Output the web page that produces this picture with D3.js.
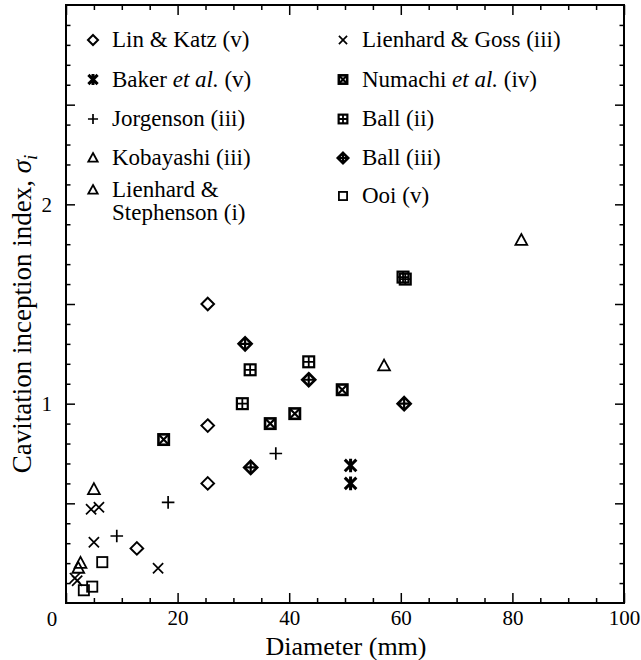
<!DOCTYPE html>
<html>
<head>
<meta charset="utf-8">
<script src="https://cdn.jsdelivr.net/npm/d3@7"></script>
<style>
  html, body { margin: 0; padding: 0; background: #fff; }
  svg { display: block; }
  text { font-family: "Liberation Serif", "Times New Roman", serif; fill: #000; }
</style>
</head>
<body>
<svg id="chart" width="641" height="660"></svg>
<script>
// ---------- data (diameter mm, sigma_i) ----------
const linKatz      = [[25.4, 1.50], [25.4, 0.89], [25.4, 0.60], [12.7, 0.274]];
const lienhardGoss = [[4.5, 0.47], [5.9, 0.48], [5.0, 0.305], [16.5, 0.174], [1.6, 0.125], [2.0, 0.112]];
const baker        = [[51.0, 0.69], [51.0, 0.60]];
const numachi      = [[17.5, 0.82], [36.6, 0.90], [41.0, 0.95], [49.5, 1.07]];
const jorgenson    = [[9.1, 0.336], [18.3, 0.505], [37.6, 0.75]];
const ball2        = [[31.6, 1.00], [33.0, 1.17], [43.5, 1.21], [60.4, 1.635], [60.8, 1.625]];
const kobayashi    = [[57.0, 1.19], [81.6, 1.82]];
const ball3        = [[32.1, 1.30], [43.5, 1.12], [60.6, 1.00], [33.1, 0.68]];
const lienhardSteph= [[5.0, 0.57], [2.6, 0.20], [2.2, 0.175]];
const ooi          = [[6.5, 0.205], [4.7, 0.082], [3.2, 0.064]];

const xMajorTicks = [0, 20, 40, 60, 80, 100];
const yLabelTicks = [1, 2];
const xTitle = "Diameter (mm)";
const yTitle = "Cavitation inception index, ";

const seriesList = [
  {parts: [["Lin & Katz (v)", false]], shape: "diamond", data: linKatz, col: 0, row: 0},
  {parts: [["Baker ", false], ["et al.", true], [" (v)", false]], shape: "asterisk", data: baker, col: 0, row: 1},
  {parts: [["Jorgenson (iii)", false]], shape: "plus", data: jorgenson, col: 0, row: 2},
  {parts: [["Kobayashi (iii)", false]], shape: "triangle", data: kobayashi, col: 0, row: 3},
  {parts: [["Lienhard &", false]], parts2: "Stephenson (i)", shape: "triangle", data: lienhardSteph, col: 0, row: 4},
  {parts: [["Lienhard & Goss (iii)", false]], shape: "cross", data: lienhardGoss, col: 1, row: 0},
  {parts: [["Numachi ", false], ["et al.", true], [" (iv)", false]], shape: "boxX", data: numachi, col: 1, row: 1},
  {parts: [["Ball (ii)", false]], shape: "boxPlus", data: ball2, col: 1, row: 2},
  {parts: [["Ball (iii)", false]], shape: "diamondPlus", data: ball3, col: 1, row: 3},
  {parts: [["Ooi (v)", false]], shape: "square", data: ooi, col: 1, row: 4}
];

// ---------- layout ----------
const svg = d3.select("#chart");
const mLeft = 66, mRight = 624, mTop = 5, mBottom = 603;
const x = d3.scaleLinear().domain([0, 100]).range([mLeft, mRight]);
const y = d3.scaleLinear().domain([0, 3]).range([mBottom, mTop]);

const xMinor = d3.range(0, 100.001, 5).filter(v => v % 20 !== 0);
const yMinor = d3.range(0, 3.0001, 0.1).map(v => +v.toFixed(1)).filter(v => Math.round(v * 10) % 5 !== 0);
const yMajor = [0.5, 1, 1.5, 2, 2.5];

function styleAxis(g) {
  g.select(".domain").remove();
  g.selectAll(".tick line").attr("stroke", "#000").attr("stroke-width", 1.5);
}

// bottom
svg.append("g").attr("transform", `translate(0,${mBottom})`)
  .call(d3.axisBottom(x).tickValues(xMajorTicks).tickSize(-10).tickPadding(7)
    .tickFormat(d => d === 0 ? "" : d))
  .call(styleAxis)
  .call(g => g.selectAll("text").attr("font-size", 21));
svg.append("g").attr("transform", `translate(0,${mBottom})`)
  .call(d3.axisBottom(x).tickValues(xMinor).tickSize(-5).tickFormat(""))
  .call(styleAxis);
// top
svg.append("g").attr("transform", `translate(0,${mTop})`)
  .call(d3.axisTop(x).tickValues(xMajorTicks).tickSize(-10).tickFormat(""))
  .call(styleAxis);
svg.append("g").attr("transform", `translate(0,${mTop})`)
  .call(d3.axisTop(x).tickValues(xMinor).tickSize(-5).tickFormat(""))
  .call(styleAxis);
// left
svg.append("g").attr("transform", `translate(${mLeft},0)`)
  .call(d3.axisLeft(y).tickValues(yMajor).tickSize(-9).tickPadding(14)
    .tickFormat(d => yLabelTicks.includes(d) ? d : ""))
  .call(styleAxis)
  .call(g => g.selectAll("text").attr("font-size", 21));
svg.append("g").attr("transform", `translate(${mLeft},0)`)
  .call(d3.axisLeft(y).tickValues(yMinor).tickSize(-4.5).tickFormat(""))
  .call(styleAxis);
// right
svg.append("g").attr("transform", `translate(${mRight},0)`)
  .call(d3.axisRight(y).tickValues(yMajor).tickSize(-9).tickFormat(""))
  .call(styleAxis);
svg.append("g").attr("transform", `translate(${mRight},0)`)
  .call(d3.axisRight(y).tickValues(yMinor).tickSize(-4.5).tickFormat(""))
  .call(styleAxis);

// origin label "0"
svg.append("text").attr("x", x(0) - 14).attr("y", mBottom + 23)
  .attr("text-anchor", "middle").attr("font-size", 21).text(0);

// frame
svg.append("rect").attr("x", mLeft).attr("y", mTop)
  .attr("width", mRight - mLeft).attr("height", mBottom - mTop)
  .attr("fill", "none").attr("stroke", "#000").attr("stroke-width", 2);

// titles
svg.append("text").attr("x", (mLeft + mRight) / 2 + 1).attr("y", 655)
  .attr("text-anchor", "middle").attr("font-size", 26).text(xTitle);
const yt = svg.append("text")
  .attr("transform", `translate(31,314) rotate(-90)`)
  .attr("text-anchor", "middle").attr("font-size", 27);
yt.append("tspan").text(yTitle);
yt.append("tspan").attr("font-style", "italic").text("σ");
yt.append("tspan").attr("font-style", "italic").attr("font-size", 19).attr("dy", 6).text("i");

// ---------- marker drawing ----------
function drawMarker(g, shape, s) {
  const k = "#000";
  if (shape === "diamond") {
    g.append("path").attr("d", `M0,${-s}L${s},0L0,${s}L${-s},0Z`)
      .attr("fill", "none").attr("stroke", k).attr("stroke-width", 2);
  } else if (shape === "cross") {
    const a = s * 0.85;
    g.append("path").attr("d", `M${-a},${-a}L${a},${a}M${-a},${a}L${a},${-a}`)
      .attr("stroke", k).attr("stroke-width", 1.7).attr("fill", "none");
  } else if (shape === "asterisk") {
    const a = s * 0.85;
    g.append("path").attr("d", `M${-a},${-a}L${a},${a}M${-a},${a}L${a},${-a}M0,${-s}L0,${s}`)
      .attr("stroke", k).attr("stroke-width", 3).attr("fill", "none");
  } else if (shape === "plus") {
    g.append("path").attr("d", `M${-s},0L${s},0M0,${-s}L0,${s}`)
      .attr("stroke", k).attr("stroke-width", 1.7).attr("fill", "none");
  } else if (shape === "triangle") {
    const h = s;
    g.append("path").attr("d", `M0,${-h}L${s * 0.95},${h * 0.75}L${-s * 0.95},${h * 0.75}Z`)
      .attr("fill", "none").attr("stroke", k).attr("stroke-width", 1.8);
  } else if (shape === "square") {
    const a = s * 0.85;
    g.append("rect").attr("x", -a).attr("y", -a).attr("width", 2 * a).attr("height", 2 * a)
      .attr("fill", "none").attr("stroke", k).attr("stroke-width", 1.8);
  } else if (shape === "boxX") {
    const a = s * 0.8;
    g.append("rect").attr("x", -a).attr("y", -a).attr("width", 2 * a).attr("height", 2 * a)
      .attr("fill", "none").attr("stroke", k).attr("stroke-width", 2.6);
    g.append("path").attr("d", `M${-a},${-a}L${a},${a}M${-a},${a}L${a},${-a}`)
      .attr("stroke", k).attr("stroke-width", 2.2);
  } else if (shape === "boxPlus") {
    const a = s * 0.8;
    g.append("rect").attr("x", -a).attr("y", -a).attr("width", 2 * a).attr("height", 2 * a)
      .attr("fill", "none").attr("stroke", k).attr("stroke-width", 2.2);
    g.append("path").attr("d", `M${-a},0L${a},0M0,${-a}L0,${a}`)
      .attr("stroke", k).attr("stroke-width", 1.8);
  } else if (shape === "diamondPlus") {
    g.append("path").attr("d", `M0,${-s}L${s},0L0,${s}L${-s},0Z`)
      .attr("fill", "none").attr("stroke", k).attr("stroke-width", 2.6);
    g.append("path").attr("d", `M${-s},0L${s},0M0,${-s}L0,${s}`)
      .attr("stroke", k).attr("stroke-width", 2.2);
  }
}

const markerSize = {diamond: 6.3, cross: 6, asterisk: 6.8, plus: 6.3, triangle: 6.2,
  square: 6, boxX: 6.5, boxPlus: 6.8, diamondPlus: 6.5};

// ---------- points ----------
const pts = svg.append("g");
seriesList.forEach(s => {
  s.data.forEach(d => {
    const g = pts.append("g").attr("transform", `translate(${x(d[0])},${y(d[1])})`);
    drawMarker(g, s.shape, markerSize[s.shape]);
  });
});

// ---------- legend ----------
const legRowY = [40, 79.5, 119, 158, 196];
const legColX = [93, 343];
const legTextX = [112, 362];
const leg = svg.append("g");
seriesList.forEach(s => {
  let cy = legRowY[s.row];
  if (s.parts2) cy = 190;
  const g = leg.append("g").attr("transform", `translate(${legColX[s.col]},${cy})`);
  drawMarker(g, s.shape, markerSize[s.shape] * 0.8);
  const t = leg.append("text").attr("x", legTextX[s.col]).attr("y", cy + 7).attr("font-size", 23);
  s.parts.forEach(p => t.append("tspan").attr("font-style", p[1] ? "italic" : null).text(p[0]));
  if (s.parts2) {
    leg.append("text").attr("x", legTextX[s.col]).attr("y", cy + 30).attr("font-size", 23).text(s.parts2);
  }
});
</script>
</body>
</html>
